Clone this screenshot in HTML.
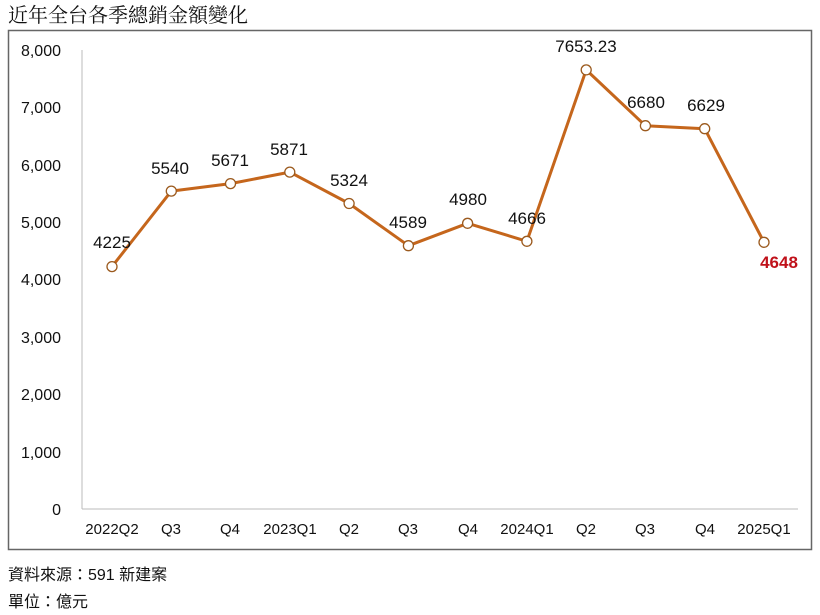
<!DOCTYPE html>
<html><head><meta charset="utf-8"><style>
html,body{margin:0;padding:0;background:#fff;}
body{width:820px;height:610px;overflow:hidden;}
</style></head><body>
<svg width="820" height="610" xmlns="http://www.w3.org/2000/svg" font-family="'Liberation Sans','Noto Sans CJK TC',sans-serif">
<rect width="820" height="610" fill="#fff"/>
<text x="8" y="22" font-size="20" fill="#111" font-family="'Liberation Serif','Noto Serif CJK SC',serif">近年全台各季總銷金額變化</text>
<rect x="8.5" y="30.5" width="803" height="519" fill="none" stroke="#666" stroke-width="1.5"/>
<line x1="82" y1="50" x2="82" y2="509" stroke="#bbb" stroke-width="1"/>
<line x1="82" y1="509" x2="798" y2="509" stroke="#bbb" stroke-width="1"/>
<g font-size="16" fill="#111" text-anchor="end">
<text x="61" y="56">8,000</text>
<text x="61" y="113">7,000</text>
<text x="61" y="171">6,000</text>
<text x="61" y="228">5,000</text>
<text x="61" y="285">4,000</text>
<text x="61" y="343">3,000</text>
<text x="61" y="400">2,000</text>
<text x="61" y="458">1,000</text>
<text x="61" y="515">0</text>
</g>
<g font-size="15" fill="#111" text-anchor="middle">
<text x="112" y="534">2022Q2</text>
<text x="171" y="534">Q3</text>
<text x="230" y="534">Q4</text>
<text x="290" y="534">2023Q1</text>
<text x="349" y="534">Q2</text>
<text x="408" y="534">Q3</text>
<text x="468" y="534">Q4</text>
<text x="527" y="534">2024Q1</text>
<text x="586" y="534">Q2</text>
<text x="645" y="534">Q3</text>
<text x="705" y="534">Q4</text>
<text x="764" y="534">2025Q1</text>
</g>
<polyline fill="none" stroke="#C5661C" stroke-width="3" stroke-linejoin="round" points="112,266.6 171.3,191.1 230.5,183.6 289.8,172.1 349.1,203.5 408.4,245.7 467.6,223.3 526.9,241.3 586.2,69.9 645.4,125.7 704.7,128.7 764,242.3"/>
<g fill="#fff" stroke="#9B5A1E" stroke-width="1.3">
<circle cx="112" cy="266.6" r="5"/><circle cx="171.3" cy="191.1" r="5"/><circle cx="230.5" cy="183.6" r="5"/><circle cx="289.8" cy="172.1" r="5"/><circle cx="349.1" cy="203.5" r="5"/><circle cx="408.4" cy="245.7" r="5"/><circle cx="467.6" cy="223.3" r="5"/><circle cx="526.9" cy="241.3" r="5"/><circle cx="586.2" cy="69.9" r="5"/><circle cx="645.4" cy="125.7" r="5"/><circle cx="704.7" cy="128.7" r="5"/><circle cx="764" cy="242.3" r="5"/>
</g>
<g font-size="17" fill="#111" text-anchor="middle">
<text x="112" y="248">4225</text>
<text x="170" y="174">5540</text>
<text x="230" y="166">5671</text>
<text x="289" y="155">5871</text>
<text x="349" y="186">5324</text>
<text x="408" y="228">4589</text>
<text x="468" y="205">4980</text>
<text x="527" y="224">4666</text>
<text x="586" y="52">7653.23</text>
<text x="646" y="108">6680</text>
<text x="706" y="111">6629</text>
</g>
<text x="779" y="268" font-size="17" font-weight="bold" fill="#C0111A" text-anchor="middle">4648</text>
<text x="8" y="580" font-size="16" fill="#111">資料來源：591 新建案</text>
<text x="8" y="607" font-size="16" fill="#111">單位：億元</text>
</svg>
</body></html>
